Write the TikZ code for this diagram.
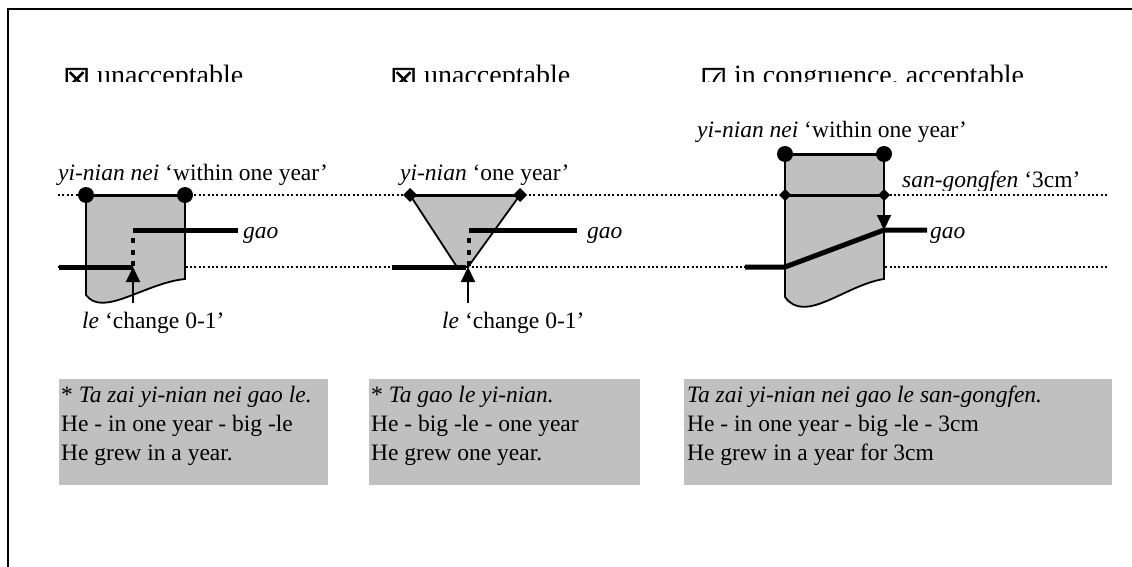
\documentclass[tikz,border=0pt]{standalone}
\usepackage{fontspec}
\setmainfont{Liberation Serif}
\newfontfamily\boxfont[FakeBold=2]{DejaVu Sans}
\usetikzlibrary{arrows.meta}
\definecolor{boxgrey}{RGB}{192,192,192}
\newcommand{\headfont}{\fontsize{28}{32}\selectfont}
\newcommand{\labfont}{\fontsize{23.5}{29}\selectfont}
\newcommand{\chk}[1]{{\boxfont\fontsize{30}{30}\selectfont\raisebox{-5pt}{#1}}\hspace{7pt}}

\begin{document}
\begin{tikzpicture}[x=1pt, y=-1pt,
    title/.style={anchor=base west, inner sep=0pt, font=\headfont},
    lab/.style={anchor=base west, inner sep=0pt, font=\labfont},
    guide/.style={line width=2pt, dash pattern=on 2pt off 2.4pt},
    rail/.style={line width=5pt},
    jump/.style={line width=4.5pt, dash pattern=on 5pt off 6.5pt},
    span/.style={fill=boxgrey, draw, line width=1.8pt},
    tick/.style={line width=2pt, -{Triangle[length=15pt,width=14pt]}}]
  \useasboundingbox (0,0) rectangle (1132,567);
  % frame, cut off at the right and at the bottom
  \draw[line width=2pt] (8,567) -- (8,9) -- (1132,9);

  % headings, clipped just under the baseline
  \begin{scope}
    \clip (0,0) rectangle (1132,82);
    \node[title] (h1) at (63,85) {\chk{☒}unacceptable};
    \node[title] (h2) at (390,85) {\chk{☒}unacceptable};
    \node[title] (h3) at (700,85) {\chk{☑}in congruence, acceptable};
  \end{scope}

  % the two time levels
  \draw[guide] (58,195) -- (1107,195);
  \draw[guide] (58,267) -- (1107,267);

  % 1: yi-nian nei with le
  \coordinate (j1) at (133,267);
  \filldraw[span] (86,195) -- (185,195) -- (185,279)
    .. controls (145,283) and (103,318) .. (86,295) -- cycle;
  \draw[line width=3pt] (86,195) -- (185,195);
  \draw[rail] (59,267) -- (j1);
  \draw[rail] (133,230) -- (238,230);
  \draw[jump] (133,266) -- (133,232);
  \draw[tick] (133,303) -- (j1);
  \fill (86,195) circle (8pt) (185,195) circle (8pt);
  \node[lab] (yn1) at (58,180) {\textit{yi-nian nei} `within one year'};
  \node[lab] (gao1) at (243,238) {\textit{gao}};
  \node[lab] (le1) at (82,328) {\textit{le} `change 0-1'};

  % 2: yi-nian with le
  \coordinate (j2) at (468,267);
  \filldraw[span] (410,195) -- (520,195) -- (j2) -- (457,267) -- cycle;
  \draw[line width=3pt] (410,195) -- (520,195);
  \draw[rail] (392,267) -- (466,267);
  \draw[rail] (469,230) -- (577,230);
  \draw[jump] (469,266) -- (469,232);
  \draw[tick] (468,303) -- (j2);
  \foreach \x in {410,520}
    \fill (\x,195) ++(-7,0) -- ++(7,-7) -- ++(7,7) -- ++(-7,7) -- cycle;
  \node[lab] (yn2) at (400,180) {\textit{yi-nian} `one year'};
  \node[lab] (gao2) at (587,238) {\textit{gao}};
  \node[lab] (le2) at (442,328) {\textit{le} `change 0-1'};

  % 3: yi-nian nei with san-gongfen
  \coordinate (j3) at (884,230);
  \filldraw[span] (785,154) -- (884,154) -- (884,279)
    .. controls (845,285) and (805,325) .. (785,297) -- cycle;
  \draw[line width=3pt] (785,154) -- (884,154);
  \draw[line width=3pt] (785,195) -- (884,195);
  \draw[rail] (745,267) -- (785,267) -- (j3) -- (927,230);
  \draw[tick] (884,195) -- (j3);
  \fill (785,154) circle (8pt) (884,154) circle (8pt);
  \foreach \x in {785,884}
    \fill (\x,195) ++(-6,0) -- ++(6,-6) -- ++(6,6) -- ++(-6,6) -- cycle;
  \node[lab] (yn3) at (697,138) {\textit{yi-nian nei} `within one year'};
  \node[lab] (gao3) at (930,238) {\textit{gao}};
  \begin{scope}
    \clip (880,160) rectangle (1132,190);
    \node[lab] (sg3) at (902,187) {\textit{san-gongfen} `3cm'};
  \end{scope}

  % example sentences
  \fill[boxgrey] (59,379) rectangle (328,485);
  \node[lab] (ex1a) at (61,402) {* \textit{Ta zai yi-nian nei gao le.}};
  \node[lab] (ex1b) at (61,431) {He - in one year - big -le};
  \node[lab] (ex1c) at (61,460) {He grew in a year.};

  \fill[boxgrey] (369,379) rectangle (640,485);
  \node[lab] (ex2a) at (371,402) {* \textit{Ta gao le yi-nian.}};
  \node[lab] (ex2b) at (371,431) {He - big -le - one year};
  \node[lab] (ex2c) at (371,460) {He grew one year.};

  \fill[boxgrey] (684,379) rectangle (1112,485);
  \node[lab] (ex3a) at (687,402) {\textit{Ta zai yi-nian nei gao le san-gongfen.}};
  \node[lab] (ex3b) at (687,431) {He - in one year - big -le - 3cm};
  \node[lab] (ex3c) at (687,460) {He grew in a year for 3cm};
\end{tikzpicture}
\end{document}
